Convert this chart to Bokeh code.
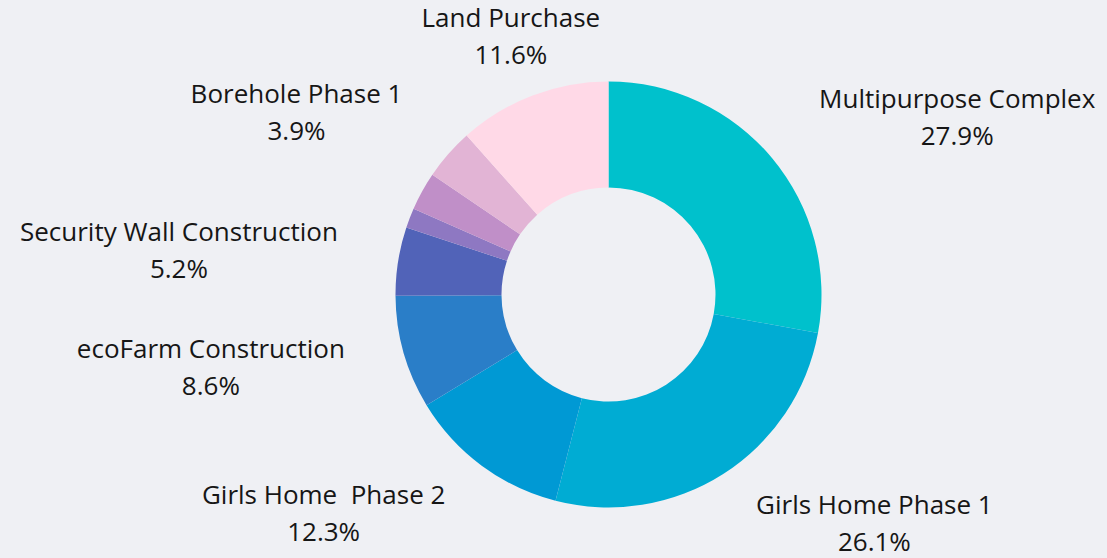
import math
import subprocess
from bokeh.plotting import figure
from bokeh.models import Range1d, ColumnDataSource
from bokeh.embed import file_html
from bokeh.resources import INLINE
from bokeh.core.properties import value

# ---- data ----
categories = ["Multipurpose Complex", "Girls Home Phase 1", "Girls Home\u00a0 Phase 2",
              "ecoFarm Construction", "Security Wall Construction", "Other A", "Other B",
              "Borehole Phase 1", "Land Purchase"]
shares = [27.9, 26.1, 12.3, 8.6, 5.2, 1.5, 2.9, 3.9, 11.6]
show_label = [True, True, True, True, True, False, False, True, True]
colors = ["#00c1cc", "#00acd3", "#0099d4", "#2a7ec8", "#5163b8",
          "#8e78c2", "#c08fc8", "#e2b4d5", "#ffd9e7"]

# ---- layout ----
BG = "#eff0f4"
FONT = "Open Sans"
FS = 26
W, H = 1107, 558
IMG_H = 558
CX, CY_IMG = 608, 294
R_OUT, R_IN, R_LAB = 213, 107, 274


def ydata(y_img):
    return IMG_H - y_img


def text_width(s, size):
    try:
        from PIL import ImageFont
        path = subprocess.run(["fc-match", "-f", "%{file}", FONT],
                              capture_output=True, text=True).stdout.strip()
        f = ImageFont.truetype(path, size)
        return f.getlength(s)
    except Exception:
        w = 0.0
        for ch in s:
            if ch in "iljtfrI1.,' \u00a0":
                w += 0.29
            elif ch in "mwMW%":
                w += 0.85
            elif ch.isupper():
                w += 0.66
            else:
                w += 0.56
        return w * size


total = sum(shares)
starts, ends = [], []
cum = 0.0
for s in shares:
    starts.append(math.pi / 2 - 2 * math.pi * cum / total)
    cum += s
    ends.append(math.pi / 2 - 2 * math.pi * cum / total)

wedges = ColumnDataSource(dict(x=[CX] * len(shares), y=[ydata(CY_IMG)] * len(shares),
                               start=starts, end=ends, color=colors))

p = figure(width=W, height=H, output_backend="svg", toolbar_location=None,
           x_range=Range1d(0, W), y_range=Range1d(0, H),
           min_border=0, tools="")
p.axis.visible = False
p.grid.visible = False
p.outline_line_color = None
p.background_fill_color = BG
p.border_fill_color = BG

p.annular_wedge(x="x", y="y", inner_radius=R_IN, outer_radius=R_OUT,
                start_angle="start", end_angle="end", direction="clock",
                fill_color="color", line_color=None, source=wedges)

groups = {"left": dict(x=[], y=[], t=[]), "right": dict(x=[], y=[], t=[]),
          "center": dict(x=[], y=[], t=[])}
pct = dict(x=[], y=[], t=[])
cum = 0.0
for name, s, show in zip(categories, shares, show_label):
    mid = (cum + s / 2) / total * 360.0
    cum += s
    if not show:
        continue
    th = math.radians(mid)
    ax = CX + R_LAB * math.sin(th)
    ay = CY_IMG - R_LAB * math.cos(th)
    off_vert = min(mid, 360 - mid, abs(mid - 180))
    w = text_width(name, FS)
    if off_vert < 30:
        align, cxm = "center", ax
    elif mid < 180:
        align, cxm = "left", ax + w / 2
    else:
        align, cxm = "right", ax - w / 2
    groups[align]["x"].append(ax)
    groups[align]["y"].append(ydata(ay - 21))
    groups[align]["t"].append(name)
    pct["x"].append(cxm)
    pct["y"].append(ydata(ay + 16))
    pct["t"].append(f"{s:.1f}%")

for align, d in groups.items():
    if d["t"]:
        p.text(x=d["x"], y=d["y"], text=d["t"], text_align=align,
               text_baseline="alphabetic", text_font=value(FONT),
               text_font_size=f"{FS}px", text_color="#161616")
p.text(x=pct["x"], y=pct["y"], text=pct["t"], text_align="center",
       text_baseline="alphabetic", text_font=value(FONT),
       text_font_size=f"{FS}px", text_color="#161616")

html = file_html(p, INLINE)
html = html.replace("<head>", "<head><style>body{background:%s;}</style>" % BG, 1)
open("out.html", "w").write(html)
